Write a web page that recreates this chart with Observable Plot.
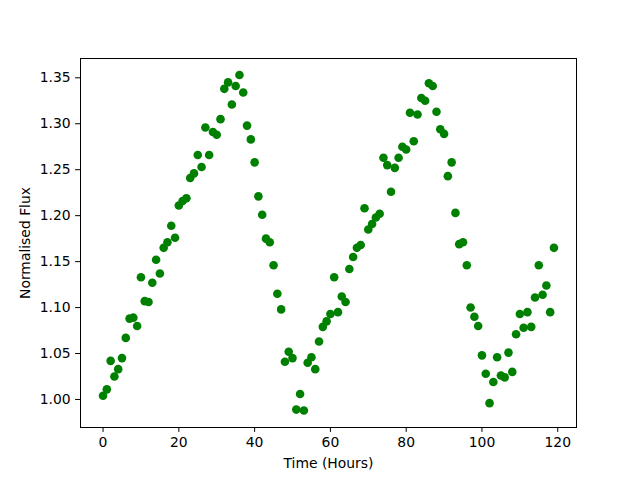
<!DOCTYPE html>
<html>
<head>
<meta charset="utf-8">
<script src="https://cdn.jsdelivr.net/npm/d3@7"></script>
<script src="https://cdn.jsdelivr.net/npm/@observablehq/plot@0.6"></script>
<style>
  html, body { margin: 0; padding: 0; background: #fff; }
  svg { display: block; }
</style>
</head>
<body>
<div id="chart"></div>
<script>
const hours = d3.range(0, 120);
const flux = [
  1.004, 1.011, 1.042, 1.025, 1.033, 1.045, 1.067, 1.088, 1.089, 1.080,
  1.133, 1.107, 1.106, 1.127, 1.152, 1.137, 1.165, 1.171, 1.189, 1.176,
  1.211, 1.216, 1.219, 1.241, 1.246, 1.266, 1.253, 1.296, 1.266, 1.291,
  1.288, 1.305, 1.338, 1.345, 1.321, 1.341, 1.353, 1.334, 1.298, 1.283,
  1.258, 1.221, 1.201, 1.175, 1.171, 1.146, 1.115, 1.098, 1.041, 1.052,
  1.045, 0.989, 1.006, 0.988, 1.040, 1.046, 1.033, 1.063, 1.079, 1.085,
  1.093, 1.133, 1.095, 1.112, 1.106, 1.142, 1.155, 1.165, 1.168, 1.208,
  1.185, 1.191, 1.198, 1.202, 1.263, 1.255, 1.226, 1.252, 1.263, 1.275,
  1.272, 1.312, 1.281, 1.310, 1.328, 1.325, 1.344, 1.341, 1.313, 1.294,
  1.289, 1.243, 1.258, 1.203, 1.169, 1.171, 1.146, 1.100, 1.090, 1.080,
  1.048, 1.028, 0.996, 1.019, 1.046, 1.026, 1.024, 1.051, 1.030, 1.071,
  1.093, 1.078, 1.095, 1.079, 1.111, 1.146, 1.114, 1.124, 1.095, 1.165
];
const xTicks = [0, 20, 40, 60, 80, 100, 120];
const yTicks = [1.00, 1.05, 1.10, 1.15, 1.20, 1.25, 1.30, 1.35];
const xLabel = "Time (Hours)";
const yLabel = "Normalised Flux";

const data = hours.map((h, i) => ({h, f: flux[i]}));

const chart = Plot.plot({
  width: 640,
  height: 480,
  marginLeft: 80,
  marginRight: 64,
  marginTop: 58,
  marginBottom: 53,
  style: {fontFamily: "DejaVu Sans", fontSize: "13.9px", color: "#000", background: "#fff"},
  x: {domain: [-5.95, 124.95]},
  y: {domain: [0.9695, 1.371]},
  marks: [
    Plot.frame({stroke: "#000", strokeWidth: 1}),
    Plot.axisX(xTicks, {tickSize: 4.9, tickPadding: 4.9, fontSize: 13.9, label: xLabel, labelAnchor: "center", labelArrow: "none", labelOffset: 40, stroke: "#000"}),
    Plot.axisY(yTicks, {tickSize: 4.9, tickPadding: 4.9, fontSize: 13.9, tickFormat: d3.format(".2f"), label: yLabel, labelAnchor: "center", labelArrow: "none", labelOffset: 60, stroke: "#000"}),
    Plot.dot(data, {x: "h", y: "f", r: 4.3, fill: "#008000", stroke: null})
  ]
});
document.getElementById("chart").appendChild(chart);
</script>
</body>
</html>
